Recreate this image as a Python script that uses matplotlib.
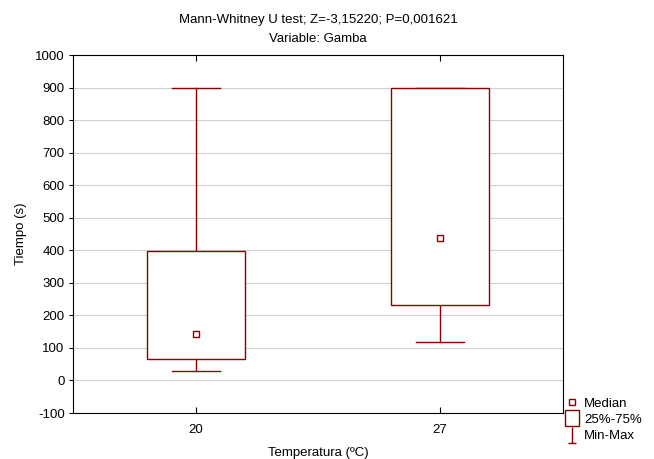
import numpy as np
import matplotlib.pyplot as plt
from matplotlib.lines import Line2D
from matplotlib.patches import Rectangle
from matplotlib.path import Path

plt.rcParams['font.family'] = ['Liberation Sans', 'DejaVu Sans']
plt.rcParams['axes.unicode_minus'] = False

groups = ['20', '27']
mins = [30, 117]
q1 = [65, 232]
medians = [143, 437]
q3 = [397, 900]
maxs = [900, 900]

RED = '#8b0000'


def main():
    fig = plt.figure(figsize=(6.54, 4.59), dpi=100)
    ax = fig.add_axes([73 / 654, 1 - 413 / 459, 490 / 654, 358 / 459])

    pos = np.arange(len(groups))
    bw = 0.4
    cw = 0.2
    for i in pos:
        ax.plot([i, i], [mins[i], q1[i]], color=RED, lw=1)
        ax.plot([i, i], [q3[i], maxs[i]], color=RED, lw=1)
        ax.plot([i - cw / 2, i + cw / 2], [mins[i], mins[i]], color=RED, lw=1)
        ax.plot([i - cw / 2, i + cw / 2], [maxs[i], maxs[i]], color=RED, lw=1)
        ax.add_patch(Rectangle((i - bw / 2, q1[i]), bw, q3[i] - q1[i],
                               facecolor='white', edgecolor=RED, lw=1, zorder=3))
        ax.plot(i, medians[i], 's', ms=5, mfc='white', mec=RED, mew=1, zorder=4)

    ax.set_xlim(-0.504, 1.504)
    ax.set_ylim(-100, 1000)
    ax.set_yticks(np.arange(-100, 1001, 100))
    ax.set_xticks(pos)
    ax.set_xticklabels(groups)
    ax.tick_params(axis='x', direction='in', top=True, length=4, labelsize=9.5, pad=8)
    ax.tick_params(axis='y', direction='out', length=3, labelsize=9.5, pad=3)
    ax.grid(axis='y', color='#d0d0d0', lw=0.8)
    ax.set_axisbelow(True)
    for s in ax.spines.values():
        s.set_linewidth(0.8)

    ax.set_xlabel('Temperatura (ºC)', fontsize=9.5, labelpad=8)
    ax.set_ylabel('Tiempo (s)', fontsize=9.5, labelpad=6)
    ax.set_title('Mann-Whitney U test; Z=-3,15220; P=0,001621\nVariable: Gamba',
                 fontsize=9.5, linespacing=1.8, pad=9)

    ibeam = Path([(-0.5, -1), (0.5, -1), (0, -1), (0, 1)],
                 [Path.MOVETO, Path.LINETO, Path.MOVETO, Path.LINETO])
    box = Path([(-0.45, -0.5), (0.45, -0.5), (0.45, 0.5), (-0.45, 0.5), (-0.45, -0.5)],
               [Path.MOVETO, Path.LINETO, Path.LINETO, Path.LINETO, Path.CLOSEPOLY])
    handles = [
        Line2D([], [], ls='none', marker='s', ms=5, mfc='white', mec=RED, mew=1),
        Line2D([], [], ls='none', marker=box, ms=11, mfc='white', mec=RED, mew=1),
        Line2D([], [], ls='none', marker=ibeam, ms=11, mfc='none', mec=RED, mew=1),
    ]
    fig.legend(handles, ['Median', '25%-75%', 'Min-Max'], loc='upper left',
               bbox_to_anchor=(563 / 654, 1 - 395 / 459), frameon=False,
               fontsize=9.5, handlelength=0.9, handletextpad=0.5,
               labelspacing=0.3, borderaxespad=0, borderpad=0.2)

    fig.savefig('out.png', dpi=100)


if __name__ == "__main__":
    main()
